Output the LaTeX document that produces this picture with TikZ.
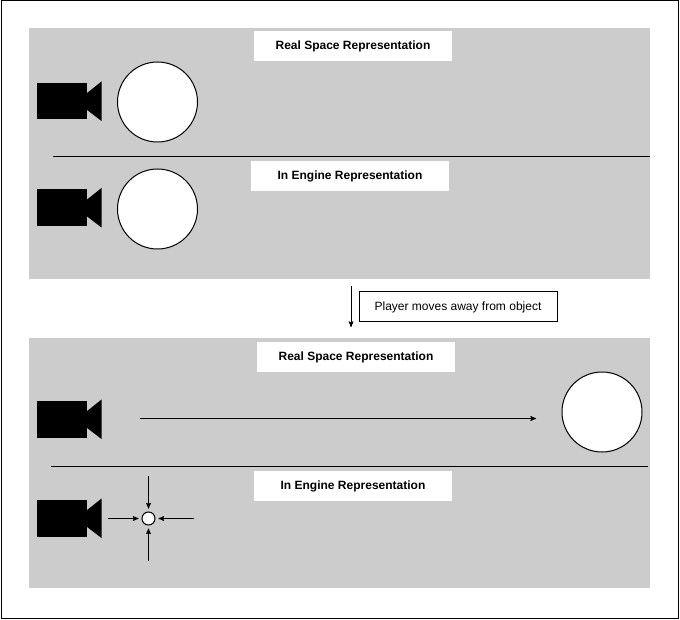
\documentclass[tikz,border=0pt]{standalone}
\usepackage{fontspec}
\setmainfont{Liberation Sans}
\usetikzlibrary{arrows,positioning}
\definecolor{panelgray}{HTML}{CCCCCC}

\begin{document}
\begin{tikzpicture}[x=1pt,y=-1pt,>=stealth',line width=1pt]
        \tikzstyle{panel}=[fill=panelgray,draw=none]
        \tikzstyle{object}=[circle,draw=black,fill=white,minimum size=80pt,inner sep=0pt]
        \tikzstyle{shrunk}=[circle,draw=black,fill=white,minimum size=13pt,inner sep=0pt]
        \tikzstyle{heading}=[rectangle,fill=white,minimum width=198pt,minimum height=30pt,inner sep=0pt,font=\fontsize{12}{14}\selectfont\bfseries]
        \tikzstyle{caption}=[rectangle,draw=black,fill=white,minimum width=198pt,minimum height=30pt,inner sep=0pt,font=\fontsize{12}{14}\selectfont]
        \tikzset{camera/.pic={
            \fill[black] (-32.5,-18.5) rectangle (17.5,18) -- cycle;
            \fill[black] (17,-8) -- (32,-20) -- (32,19.5) -- (17,8) -- cycle;
        }}

        \useasboundingbox (0,0) rectangle (680,620);
        \draw[black] (1.5,0.5) rectangle (678.5,618.5); %outer frame

        \fill[panel] (29,28) rectangle (650,279); %top panel
        \fill[panel] (29,338) rectangle (650,588); %bottom panel

        \node [heading] (real1) at (353,46) {Real Space Representation};
        \node [heading] (engine1) at (350,176) {In Engine Representation};
        \node [heading] (real2) at (356,357) {Real Space Representation};
        \node [heading] (engine2) at (353,486) {In Engine Representation};

        \pic at (69.5,101.5) {camera};
        \pic at (69.5,208) {camera};
        \pic at (69.5,419.5) {camera};
        \pic at (69.5,518.5) {camera};

        \node [object] (obj1) at (157.5,102) {};
        \node [object] (obj2) [below=26pt of obj1] {};
        \node [object] (obj3) at (602,412) {};
        \node [shrunk] (obj4) at (148.5,518.5) {};

        %separators
        \coordinate (sep1a) at (53,156.5);
        \coordinate (sep1b) at (650,156.5);
        \draw (sep1a) -- (sep1b);
        \coordinate (sep2a) at (51,466.5);
        \coordinate (sep2b) at (648,466.5);
        \draw (sep2a) -- (sep2b);

        %player moves
        \node [caption] (moves) at (458,307) {Player moves away from object};
        \coordinate (movesa) at (351,286);
        \coordinate (movesb) at (351,327);
        \draw[->] (movesa) -- (movesb);

        %object moves away
        \coordinate (awaya) at (140,418.5);
        \coordinate (awayb) at (536,418.5);
        \draw[->] (awaya) -- (awayb);

        %shrinking arrows
        \coordinate (shrinkt) at (148.5,476);
        \coordinate (shrinkb) at (148.5,561);
        \coordinate (shrinkl) at (108,518.5);
        \coordinate (shrinkr) at (194,518.5);
        \draw[->,shorten >=3pt] (shrinkt) -- (obj4);
        \draw[->,shorten >=3pt] (shrinkb) -- (obj4);
        \draw[->,shorten >=3pt] (shrinkl) -- (obj4);
        \draw[->,shorten >=3pt] (shrinkr) -- (obj4);
    \end{tikzpicture}
\end{document}
